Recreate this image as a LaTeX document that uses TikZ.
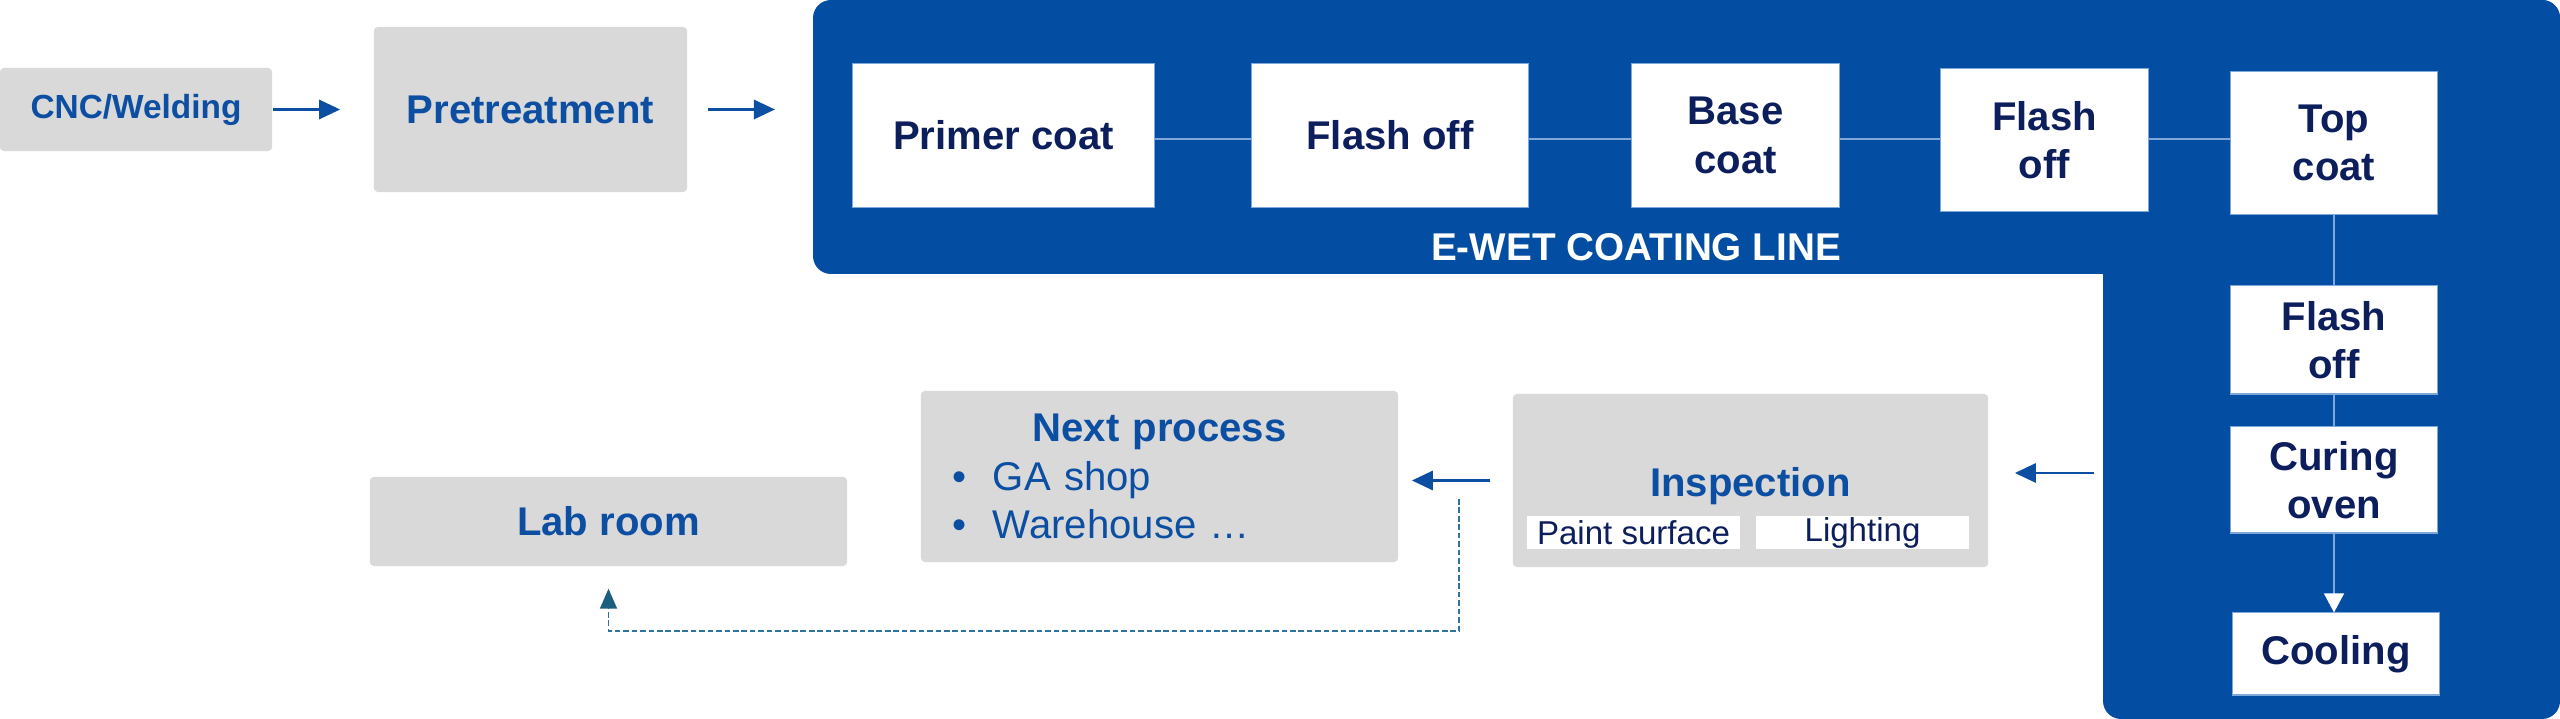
\documentclass[tikz,border=0pt]{standalone}
\usepackage{fontspec}
\setmainfont{Liberation Sans}
\usetikzlibrary{arrows.meta, positioning, calc}
\definecolor{lineBlue}{HTML}{034EA2}
\definecolor{boxGray}{HTML}{D9D9D9}
\definecolor{textBlue}{HTML}{0B4EA2}
\definecolor{deepNavy}{HTML}{0C1F5C}
\definecolor{linkBlue}{HTML}{7FA8DA}
\definecolor{dashTeal}{HTML}{2F73A0}
\definecolor{headTeal}{HTML}{1B5E7D}
\colorlet{arrowBlue}{textBlue}

\begin{document}
\begin{tikzpicture}[x=0.01cm, y=-0.01cm,
  graybox/.style={fill=boxGray, rounded corners=0.04cm, text=textBlue,
    font=\fontsize{11.4}{13.7}\selectfont\bfseries, align=center, inner sep=0pt},
  whitebox/.style={fill=white, draw=linkBlue, line width=0.3pt, text=deepNavy,
    font=\fontsize{11.4}{13.7}\selectfont\bfseries, align=center, inner sep=0pt},
  tagbox/.style={fill=white, text=deepNavy, font=\fontsize{9.4}{11}\selectfont,
    inner sep=0pt, minimum width=2.13cm, minimum height=0.33cm},
  flowarrow/.style={arrowBlue, line width=0.85pt, -{Triangle[length=0.21cm, width=0.19cm]}},
  linkline/.style={linkBlue, line width=0.35pt},
  labdash/.style={dashTeal, line width=0.5pt, dash pattern=on 1.6pt off 0.8pt,
    -{Triangle[length=0.2cm, width=0.17cm, color=headTeal]}}]

  \useasboundingbox (0,0) rectangle (2560,719);

  \fill[lineBlue, rounded corners=0.18cm] (813,0) rectangle (2560,274);
  \fill[lineBlue, rounded corners=0.18cm] (2103,0) rectangle (2560,719);
  \coordinate (lineW) at (813,111);
  \coordinate (lineS) at (2103,473);
  \coordinate (linkRow) at (1000,139);

  \node[graybox, minimum width=2.72cm, minimum height=0.83cm,
        font=\fontsize{9.5}{11}\selectfont\bfseries] (cnc) at (136,109.5) {CNC/Welding};
  \node[graybox, minimum width=3.13cm, minimum height=1.65cm] (pre) at (530.5,109.5) {Pretreatment};

  \node[whitebox, minimum width=3.01cm, minimum height=1.43cm] (primer) at (1003.5,135.5) {Primer coat};
  \node[whitebox, minimum width=2.76cm, minimum height=1.43cm] (flashA) at (1390,135.5) {Flash off};
  \node[whitebox, minimum width=2.07cm, minimum height=1.43cm] (base) at (1735.5,135.5) {Base\\coat};
  \node[whitebox, minimum width=2.07cm, minimum height=1.42cm] (flashB) at (2044.5,140) {Flash\\off};
  \node[whitebox, minimum width=2.06cm, minimum height=1.42cm] (top) at (2334,143) {Top\\coat};
  \node[whitebox, minimum width=2.06cm, minimum height=1.08cm] (flashC) at (2334,340) {Flash\\off};
  \node[whitebox, minimum width=2.06cm, minimum height=1.06cm] (curing) at (2334,480) {Curing\\oven};
  \node[whitebox, minimum width=2.06cm, minimum height=0.82cm] (cooling) at (2336,654) {Cooling};
  \node[text=white, font=\fontsize{11}{13}\selectfont\bfseries] (lineName) at (1636,247) {E-WET COATING LINE};

  \node[graybox, minimum width=4.75cm, minimum height=1.73cm,
        text height=0.31cm, text depth=0cm] (inspect) at (1750.5,480.5) {Inspection};
  \node[tagbox] (paint) at (1633.5,532.5) {Paint surface};
  \node[tagbox] (light) at (1862.5,532.5) {Lighting};

  \node[graybox, minimum width=4.77cm, minimum height=1.71cm, text width=4.13cm,
        inner xsep=0.32cm, align=left] (next) at (1159.5,476.5)
        {\makebox[4.13cm]{Next process}\\
         {\mdseries\makebox[0.4cm][l]{•}GA shop}\\
         {\mdseries\makebox[0.4cm][l]{•}Warehouse …}};
  \node[graybox, minimum width=4.77cm, minimum height=0.89cm] (lab) at (608.5,521.5) {Lab room};

  \draw[flowarrow, shorten >=0.33cm] (cnc.east) -- (pre.west);
  \draw[flowarrow, shorten <=0.2cm, shorten >=0.38cm] (pre.east) -- (pre.east -| lineW);
  \foreach \a/\b in {primer/flashA, flashA/base, base/flashB, flashB/top}
    \draw[linkline] (\a.east |- linkRow) -- (\b.west |- linkRow);
  \draw[linkline] (top.south) -- (flashC.north);
  \draw[linkline] (flashC.south) -- (curing.north);
  \draw[linkline, -{Triangle[length=0.19cm, width=0.2cm, fill=white, color=white]}]
    (curing.south) -- (curing.south |- cooling.north);
  \draw[flowarrow, shorten <=0.09cm, shorten >=0.26cm] (lineS) -- (lineS -| inspect.east);
  \draw[flowarrow, shorten <=0.22cm, shorten >=0.13cm] (inspect.west) -- (inspect.west -| next.east);

  \coordinate (tap) at (1459,499);
  \coordinate (tapLow) at (1459,631);
  \draw[labdash, shorten >=0.22cm] (tap) -- (tapLow) -| (lab.south);
\end{tikzpicture}
\end{document}
